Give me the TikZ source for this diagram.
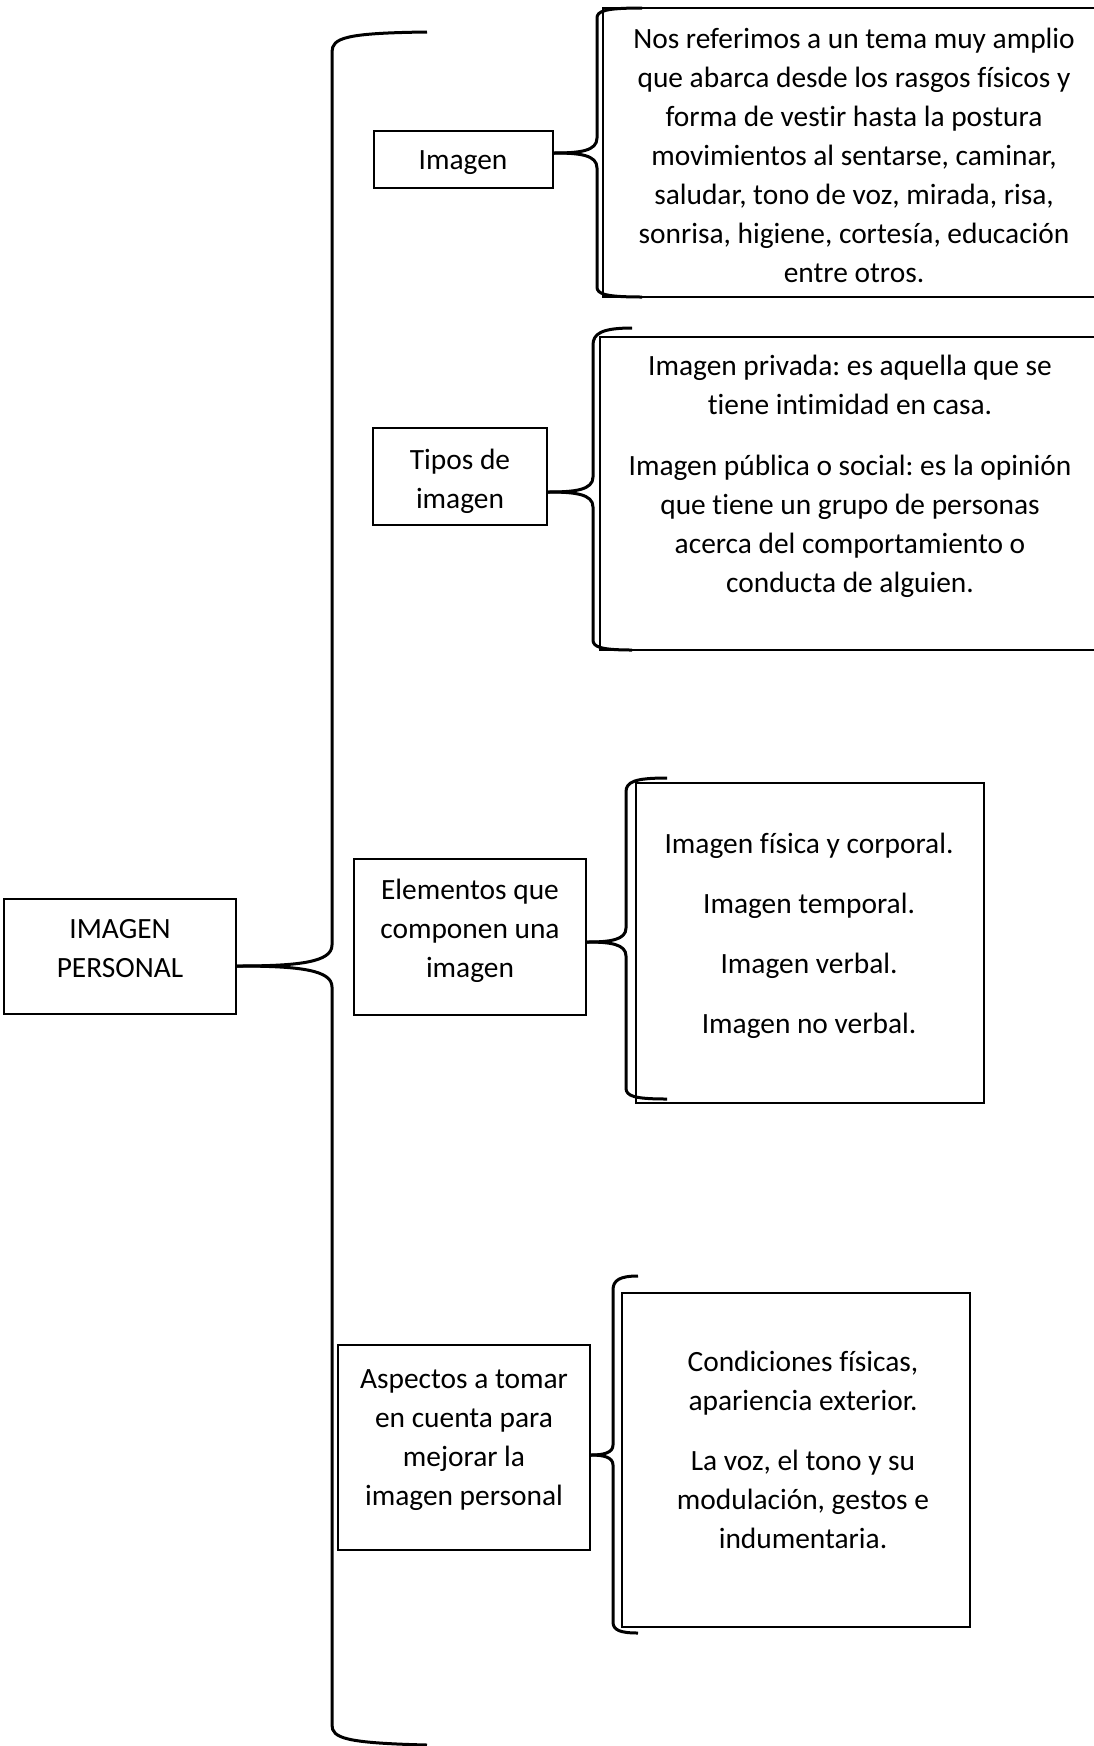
\documentclass[tikz,border=0pt]{standalone}
\usepackage{fontspec}
\setmainfont[Ligatures={NoCommon}]{Carlito}
\usetikzlibrary{fit}
\frenchspacing
\begin{document}
\begin{tikzpicture}[x=1pt,y=-1pt,
  box/.style={draw, line width=1.8pt, inner sep=0pt},
  txt/.style={align=center, font=\fontsize{29.4}{39}\selectfont, inner sep=0pt},
  brc/.style={line width=3pt, line cap=butt, line join=round}]
\useasboundingbox (0,0) rectangle (1094,1746);
\clip (0,0) rectangle (1094,1746);
\fill[white] (0,0) rectangle (1094,1746);

% left boxes
\node[box, fit={(4,899) (236,1014)}] (root) {};
\node[txt] (rootT) at (120,949) {IMAGEN\\PERSONAL};
\node[box, fit={(374,131) (553,188)}] (img) {};
\node[txt] (imgT) at (463,163) {Imagen};
\node[box, fit={(373,428) (547,525)}] (tipos) {};
\node[txt] (tiposT) at (460,481) {Tipos de\\imagen};
\node[box, fit={(354,859) (586,1015)}] (elem) {};
\node[txt] (elemT) at (470,931) {Elementos que\\componen una\\imagen};
\node[box, fit={(338,1345) (590,1550)}] (asp) {};
\node[txt] (aspT) at (464,1440) {Aspectos a tomar\\en cuenta para\\mejorar la\\imagen personal};

% right boxes
\node[box, fit={(603,8) (1120,297)}] (d1) {};
\node[txt] (d1T) at (854,155) {Nos referimos a un tema muy amplio\\que abarca desde los rasgos físicos y\\forma de vestir hasta la postura\\movimientos al sentarse, caminar,\\saludar, tono de voz, mirada, risa,\\sonrisa, higiene, cortesía, educación\\entre otros.};
\node[box, fit={(600,337) (1120,650)}] (d2) {};
\node[txt] (d2T) at (850,476.5) {Imagen privada: es aquella que se\\tiene intimidad en casa.\\[22pt]Imagen pública o social: es la opinión\\que tiene un grupo de personas\\acerca del comportamiento o\\conducta de alguien.};
\node[box, fit={(636,783) (984,1103)}] (d3) {};
\node[txt] (d3T) at (809,936) {Imagen física y corporal.\\[21pt]Imagen temporal.\\[21pt]Imagen verbal.\\[21pt]Imagen no verbal.};
\node[box, fit={(622,1293) (970,1627)}] (d4) {};
\node[txt] (d4T) at (803,1450) {Condiciones físicas,\\apariencia exterior.\\[21pt]La voz, el tono y su\\modulación, gestos e\\indumentaria.};

% brace ends
\coordinate (b0t) at (427,32);  \coordinate (b0b) at (427,1745);
\coordinate (b1t) at (642,8);   \coordinate (b1b) at (642,297);
\coordinate (b2t) at (632,328); \coordinate (b2b) at (632,650);
\coordinate (b3t) at (667,778); \coordinate (b3b) at (667,1099);
\coordinate (b4t) at (638,1276); \coordinate (b4b) at (638,1633);

% big brace
\draw[brc] ([yshift=-9.5pt]root.east) .. controls (300,966) and (332,962) .. (332,945) -- (332,52) .. controls (332,38) and (345,33) .. (b0t);
\draw[brc] ([yshift=-9.5pt]root.east) .. controls (300,966) and (332,970) .. (332,987) -- (332,1725) .. controls (332,1738) and (345,1743) .. (b0b);

% brace 1
\draw[brc] ([yshift=6.5pt]img.east) .. controls (580,153) and (597,151) .. (597,138) -- (597,18) .. controls (597,11) and (605,8) .. (b1t);
\draw[brc] ([yshift=6.5pt]img.east) .. controls (580,153) and (597,155) .. (597,168) -- (597,287) .. controls (597,294) and (605,297) .. (b1b);

% brace 2
\draw[brc] ([yshift=-15.5pt]tipos.east) .. controls (575,492) and (593,490) .. (593,477) -- (593,345) .. controls (593,334) and (601,328) .. (b2t);
\draw[brc] ([yshift=-15.5pt]tipos.east) .. controls (575,492) and (593,494) .. (593,507) -- (593,640) .. controls (593,647) and (601,650) .. (b2b);

% brace 3
\draw[brc] ([yshift=-5pt]elem.east) .. controls (610,942) and (626,940) .. (626,928) -- (626,792) .. controls (626,782) and (634,778) .. (b3t);
\draw[brc] ([yshift=-5pt]elem.east) .. controls (610,942) and (626,944) .. (626,956) -- (626,1088) .. controls (626,1096) and (634,1099) .. (b3b);

% brace 4
\draw[brc] ([yshift=-7.5pt]asp.east) .. controls (603,1455) and (613,1453) .. (613,1445) -- (613,1290) .. controls (613,1280) and (620,1276) .. (b4t);
\draw[brc] ([yshift=-7.5pt]asp.east) .. controls (603,1455) and (613,1457) .. (613,1465) -- (613,1622) .. controls (613,1630) and (620,1633) .. (b4b);
\end{tikzpicture}
\end{document}
